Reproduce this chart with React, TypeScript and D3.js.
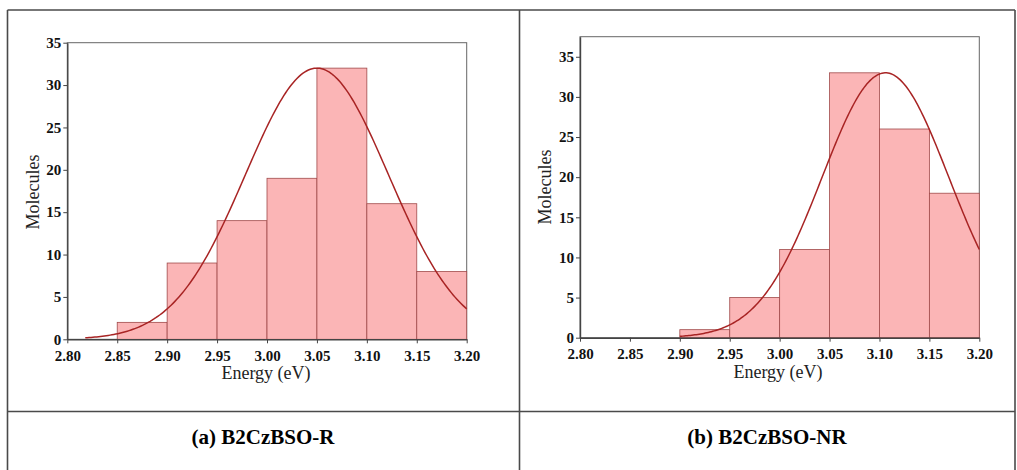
import React, { useEffect, useRef } from 'react';
import * as d3 from 'd3';

// bins are 0.05 eV wide, given by their left edge
const binStartsA = [2.85, 2.90, 2.95, 3.00, 3.05, 3.10, 3.15];
const countsA = [2, 9, 14, 19, 32, 16, 8];
const binStartsB = [2.90, 2.95, 3.00, 3.05, 3.10, 3.15];
const countsB = [1, 5, 11, 33, 26, 18];
const binWidth = 0.05;

// normal fit: peak height, mean, sigma, drawn range
const fitA = { peak: 32, mean: 3.05, sigma: 0.0717, from: 2.818, to: 3.2 };
const fitB = { peak: 33, mean: 3.106, sigma: 0.0634, from: 2.9, to: 3.2 };

const xTicks = [2.8, 2.85, 2.9, 2.95, 3.0, 3.05, 3.1, 3.15, 3.2];
const yTicks = [0, 5, 10, 15, 20, 25, 30, 35];
const captions = ['(a) B2CzBSO-R', '(b) B2CzBSO-NR'];

const serif = "'Liberation Serif', 'DejaVu Serif', serif";

const App = () => {
    const ref = useRef<SVGSVGElement>(null);

    useEffect(() => {
        const svg = d3.select(ref.current);
        svg.selectAll('*').remove();

        // table frame
        const lineColor = '#4a4a4a';
        const frame = svg.append('g').attr('stroke', lineColor).attr('stroke-width', 1.6).attr('fill', 'none');
        frame.append('line').attr('x1', 7.5).attr('x2', 1015).attr('y1', 10).attr('y2', 10);
        frame.append('line').attr('x1', 7.5).attr('x2', 1015).attr('y1', 411.5).attr('y2', 411.5);
        frame.append('line').attr('x1', 7.5).attr('x2', 7.5).attr('y1', 10).attr('y2', 470);
        frame.append('line').attr('x1', 519.5).attr('x2', 519.5).attr('y1', 10).attr('y2', 470);
        frame.append('line').attr('x1', 1015).attr('x2', 1015).attr('y1', 10).attr('y2', 470);

        svg.selectAll('text.caption')
            .data(captions)
            .enter()
            .append('text')
            .attr('class', 'caption')
            .attr('x', (_, i) => i === 0 ? 263 : 767)
            .attr('y', 444)
            .attr('text-anchor', 'middle')
            .style('font-family', serif)
            .style('font-weight', '700')
            .style('font-size', '21px')
            .attr('fill', '#000')
            .text(d => d);

        const drawPanel = (opts) => {
            const { left, right, top, bottom, yMax, starts, counts, fit, molX, molY, energyX, energyY } = opts;
            const x = d3.scaleLinear().domain([2.8, 3.2]).range([left, right]);
            const y = d3.scaleLinear().domain([0, yMax]).range([bottom, top]);
            const g = svg.append('g');

            // plot frame
            g.append('rect')
                .attr('x', left).attr('y', top)
                .attr('width', right - left).attr('height', bottom - top)
                .attr('fill', 'none').attr('stroke', '#666').attr('stroke-width', 1);

            // histogram bars
            g.selectAll('rect.bar')
                .data(counts)
                .enter()
                .append('rect')
                .attr('class', 'bar')
                .attr('x', (_, i) => x(starts[i]))
                .attr('y', d => y(d))
                .attr('width', (_, i) => x(starts[i] + binWidth) - x(starts[i]))
                .attr('height', d => y(0) - y(d))
                .attr('fill', '#fbb5b6')
                .attr('stroke', '#a04a4a')
                .attr('stroke-width', 0.8);

            // fitted normal curve
            const pts = d3.range(0, 201).map(k => {
                const e = fit.from + (fit.to - fit.from) * k / 200;
                return [e, fit.peak * Math.exp(-((e - fit.mean) ** 2) / (2 * fit.sigma ** 2))];
            });
            g.append('path')
                .datum(pts)
                .attr('d', d3.line().x(d => x(d[0])).y(d => y(d[1])))
                .attr('fill', 'none')
                .attr('stroke', '#a82424')
                .attr('stroke-width', 1.5);

            // axes
            const xAxis = g.append('g')
                .attr('transform', `translate(0,${bottom})`)
                .call(d3.axisBottom(x).tickValues(xTicks).tickFormat(d3.format('.2f')).tickSize(4).tickSizeOuter(0));
            const yAxis = g.append('g')
                .attr('transform', `translate(${left},0)`)
                .call(d3.axisLeft(y).tickValues(yTicks).tickSize(4).tickSizeOuter(0));
            [xAxis, yAxis].forEach(a => {
                a.attr('font-family', null).attr('font-size', null);
                a.select('.domain').attr('stroke', '#444').attr('stroke-width', 1.4);
                a.selectAll('.tick line').attr('stroke', '#444');
                a.selectAll('text')
                    .style('font-family', serif)
                    .style('font-weight', '700')
                    .style('font-size', '15px')
                    .attr('fill', '#111');
            });
            xAxis.selectAll('text').attr('dy', '0.95em');
            yAxis.selectAll('text').attr('x', -6);

            g.append('text')
                .attr('transform', `translate(${molX},${molY}) rotate(-90)`)
                .attr('text-anchor', 'middle')
                .attr('dy', '0.35em')
                .style('font-family', serif)
                .style('font-size', '18px')
                .attr('fill', '#222')
                .text('Molecules');
            g.append('text')
                .attr('x', energyX)
                .attr('y', energyY)
                .attr('text-anchor', 'middle')
                .attr('dy', '0.35em')
                .style('font-family', serif)
                .style('font-size', '18px')
                .attr('fill', '#222')
                .text('Energy (eV)');
        };

        drawPanel({
            left: 67.3, right: 466.7, top: 42.7, bottom: 339.3, yMax: 35,
            starts: binStartsA, counts: countsA, fit: fitA,
            molX: 33, molY: 192, energyX: 266, energyY: 373,
        });
        drawPanel({
            left: 580, right: 979.3, top: 36.7, bottom: 337.7, yMax: 37.5,
            starts: binStartsB, counts: countsB, fit: fitB,
            molX: 545, molY: 187, energyX: 778, energyY: 372,
        });
    }, []);

    return (
        <svg
            ref={ref}
            width={1017}
            height={470}
            style={{ position: 'absolute', left: 0, top: 0, background: '#fff' }}
        />
    );
};

export default App;
